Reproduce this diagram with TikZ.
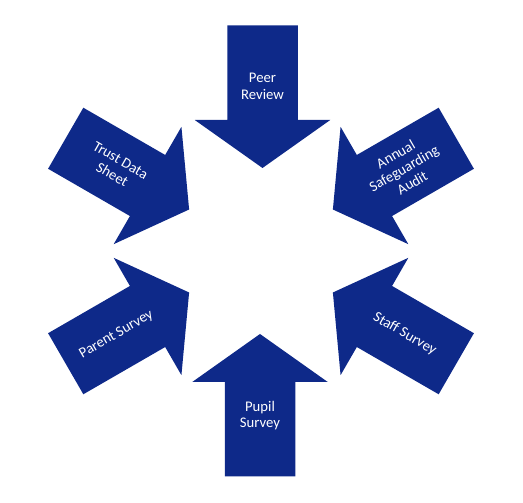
\documentclass[tikz,border=0pt]{standalone}
\usepackage{fontspec}
\setmainfont{Carlito}
\usepackage{tikz}
\usepackage{xcolor}
\definecolor{arrowblue}{RGB}{14,41,137}

\tikzset{
    inarrow/.style={fill=arrowblue},
    arrowtext/.style={text=white, align=center, inner sep=0pt,
        font=\fontsize{14.7}{16.5}\selectfont}
}

\begin{document}
\begin{tikzpicture}[x=1pt, y=1pt]
    \useasboundingbox (0,0) rectangle (523,503);

    \begin{scope}[shift={(261,252)}]
    % Arrows pointing to the centre
    \fill[inarrow, xshift=1.5, rotate=90] (225.5,35.25) -- (131,35.25) -- (131,67.75) -- (83,0)
        -- (131,-67.75) -- (131,-35.25) -- (225.5,-35.25) -- cycle;
    \fill[inarrow, rotate=150] (225.5,35.25) -- (131,35.25) -- (131,67.75) -- (83,0)
        -- (131,-67.75) -- (131,-35.25) -- (225.5,-35.25) -- cycle;
    \fill[inarrow, rotate=210] (225.5,35.25) -- (131,35.25) -- (131,67.75) -- (83,0)
        -- (131,-67.75) -- (131,-35.25) -- (225.5,-35.25) -- cycle;
    \fill[inarrow, xshift=-1, rotate=270] (225.5,35.25) -- (131,35.25) -- (131,67.75) -- (83,0)
        -- (131,-67.75) -- (131,-35.25) -- (225.5,-35.25) -- cycle;
    \fill[inarrow, rotate=330] (225.5,35.25) -- (131,35.25) -- (131,67.75) -- (83,0)
        -- (131,-67.75) -- (131,-35.25) -- (225.5,-35.25) -- cycle;
    \fill[inarrow, rotate=30] (225.5,35.25) -- (131,35.25) -- (131,67.75) -- (83,0)
        -- (131,-67.75) -- (131,-35.25) -- (225.5,-35.25) -- cycle;

    % Labels
    \node[arrowtext] (peer) at ([xshift=1.5]90:164.5) {Peer\\Review};
    \node[arrowtext, rotate=-30] (trust) at (150:167) {Trust Data\\Sheet};
    \node[arrowtext, rotate=30] (parent) at (210:167) {Parent Survey};
    \node[arrowtext] (pupil) at ([xshift=-1]270:164.5) {Pupil\\Survey};
    \node[arrowtext, rotate=-30] (staff) at (330:166) {Staff Survey};
    \node[arrowtext, rotate=30] (audit) at (30:165) {Annual\\Safeguarding\\Audit};
    \end{scope}
\end{tikzpicture}
\end{document}
